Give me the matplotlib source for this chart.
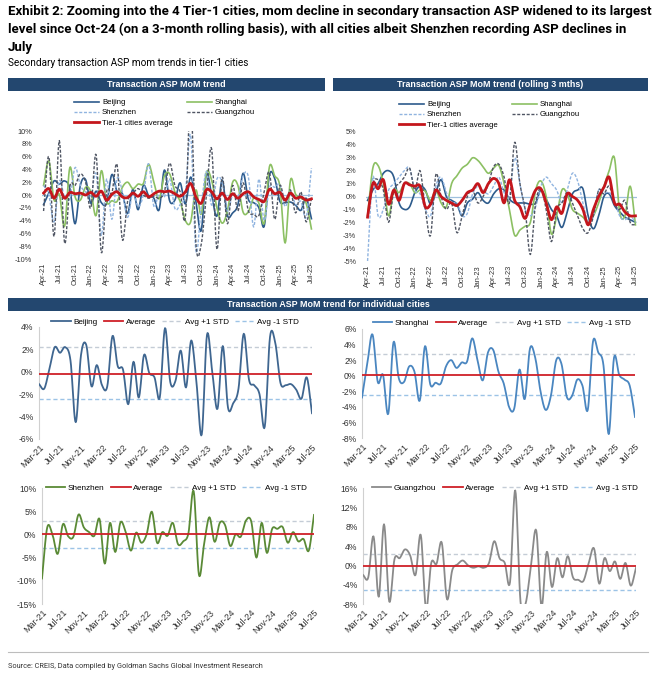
import numpy as np
import pandas as pd
import matplotlib
matplotlib.use('Agg')
import matplotlib.pyplot as plt
from matplotlib.patches import Rectangle
from matplotlib.lines import Line2D
from matplotlib.ticker import MultipleLocator, FuncFormatter

# monthly mom change in secondary ASP, Mar-21 .. Jul-25 (%)
months = pd.date_range('2021-03-01', periods=53, freq='MS')
month_labels = list(months.strftime('%b-%y'))

beijing = [-1.1, -1.5, 0.3, 2.2, 1.7, 2.2, 1.0, -4.5, 1.5, 2.4, -1.3, 0.6, -1.2, -1.3, 3.2, 0.5, 0.2, -2.9,
           0.9, -2.3, 1.5, -0.1, -0.5, -2.3, 3.9, -0.9, -0.8, 1.9, -1.4, 2.8, -1.0, -5.6, 3.3, 0.0, -3.3, 2.3,
           -3.2, -2.8, -1.5, 3.4, -0.7, -1.2, -2.0, -4.9, 3.1, 2.6, -1.0, -1.2, -1.1, -1.6, -2.4, -0.5, -3.7]
shanghai = [-2.8, 1.5, 5.3, -0.8, 0.1, -4.9, 4.3, -0.3, -0.8, 1.2, 0.5, -3.2, 3.8, -1.1, -0.9, -1.0, 1.2, 2.0,
            1.0, 1.7, 1.8, 4.8, 2.0, -0.6, 3.0, 3.3, 0.5, -1.0, -4.0, -4.2, 0.8, -3.0, 3.5, 2.3, -2.0, -4.4,
            -2.5, 2.0, 1.5, -2.7, -2.6, -0.5, -1.3, -4.4, 4.4, 3.0, 1.3, -7.5, 2.3, 0.1, -0.5, -1.3, -5.3]
shenzhen = [-9.5, 1.5, 0.0, -4.2, 2.2, -0.4, -0.5, 4.3, 1.5, 0.5, -0.3, 3.3, -6.3, 2.5, -3.8, 2.6, 0.5, -3.5,
            0.4, -1.8, 0.0, 4.9, -1.8, 0.5, -0.3, 2.5, -2.1, -1.5, 0.3, 9.3, -8.7, -2.0, 3.7, -1.6, 2.5, 2.0,
            -2.5, 0.0, -0.5, 3.0, 2.8, -5.0, 2.5, -4.0, 1.2, 1.2, 1.6, -1.8, 0.5, -1.5, -1.0, -3.5, 4.2]
guangzhou = [-2.0, -2.5, 6.0, -6.5, 8.5, -7.5, 1.3, 1.5, 3.3, 2.0, -2.0, 6.3, -9.0, 0.5, 0.3, 4.7, -7.0, -1.0,
             0.2, 1.0, 0.0, -0.5, -0.2, -0.5, 0.5, 5.0, 1.5, 0.5, -3.5, 15.5, -7.5, -7.8, 0.0, 7.2, -8.5, 2.8,
             -4.5, 1.5, -2.5, 1.9, -2.5, -3.0, -3.2, 0.5, 3.5, -3.8, 1.5, -1.2, 0.8, -2.8, 0.5, -4.2, -0.5]

# tier-1 average, Apr-21 .. Jul-25
tier1_avg = [0.3, 1.0, -0.5, 0.9, -0.5, 0.4, 0.2, 0.3, 0.0, 0.4, -0.2, 0.6, -0.8, 0.1, 0.5, -0.3, -0.4, 0.3,
             -0.2, 0.5, -0.3, 0.2, 0.6, 0.5, 0.6, 0.2, -0.2, 0.5, 1.8, -0.3, -1.3, 0.8, 0.5, -0.6, 0.3, -0.7,
             0.2, -0.5, 0.2, 0.5, -0.3, -0.7, -1.0, 0.9, 0.2, 0.4, -0.8, 0.3, -0.5, -0.3, -0.8, -0.6]

# rolling 3 months, Apr-21 .. Jul-25
bj_roll = [-0.3, 0.5, 1.0, 1.8, 2.0, 1.5, -0.5, -1.0, -0.8, 0.3, 0.8, 0.5, -0.6, 0.3, 1.3, 0.0, -0.3, -0.6,
           -1.5, -0.5, -0.2, 0.3, -0.3, -0.5, 0.2, 0.6, 0.5, -0.2, -0.5, -0.5, -0.5, -0.6, -0.5, 0.5, -0.2,
           -1.0, -1.5, -2.4, -1.2, 0.2, 0.5, 0.6, -1.5, -2.5, -1.5, 0.0, 0.2, -0.7, -1.2, -1.6, -1.8, -2.0]
sh_roll = [-1.5, 2.2, 2.4, 1.0, -1.5, 0.5, 0.3, 1.0, 1.0, 0.3, 0.5, 0.4, -0.3, 0.5, -0.5, -0.8, 1.0, 1.6,
           2.2, 2.5, 3.0, 2.8, 2.3, 1.8, 2.2, 2.4, 1.0, -1.0, -3.0, -2.6, -2.3, -2.0, 0.5, 1.2, 0.0, -2.9,
           -1.5, 0.5, 0.2, -1.0, -1.3, -1.6, -2.0, -1.5, -0.5, 0.8, 2.0, 3.0, -1.2, -1.5, 0.8, -2.2]
sz_roll = [-5.0, 1.5, -1.5, -1.0, 0.5, 1.0, 1.5, 2.0, 2.2, 0.5, 0.2, -1.0, -1.5, 0.8, 1.5, 0.3, -0.5, -0.5,
           -1.5, -1.3, 0.2, 0.8, 0.5, 0.2, 0.8, 1.5, 0.3, 0.0, 3.0, 1.0, -1.0, -1.5, -0.8, 0.8, 1.5, 1.0,
           0.5, -0.5, 0.5, 1.8, 1.2, -0.5, -2.0, -1.5, 0.5, 0.3, 0.3, -0.3, -1.5, -1.8, -1.5, -2.0]
gz_roll = [-1.5, 1.0, 1.3, 0.5, -2.0, 0.5, 1.0, 1.5, 2.2, 0.5, 2.0, -1.0, -3.0, 1.7, 0.0, -1.0, -0.5, -2.8,
           -1.5, 0.0, 0.5, -0.5, 0.0, 1.0, 2.3, 2.5, 1.5, -0.5, 4.2, 1.0, -1.0, -4.5, -0.5, 0.6, -1.0, -3.5,
           -1.0, -0.5, 0.3, -0.5, -1.5, -2.5, -2.8, -1.5, 0.5, 0.2, 0.8, -0.5, -1.0, -0.3, -2.0, -2.2]
avg_roll = [-1.6, 1.0, 0.6, 1.3, -0.6, 0.5, -0.3, 1.0, 0.9, 0.8, 0.8, -0.8, -0.6, 0.5, 0.0, -0.3, -0.5, -0.7,
            -0.3, 0.3, 0.5, 1.0, 0.3, 1.0, 1.4, 1.0, -0.5, 1.3, -0.3, -0.8, -1.7, -0.5, 0.5, 0.6, -0.5, -1.8,
            -0.8, -1.3, 0.2, 0.0, -0.3, -1.0, -2.2, -1.0, 0.0, 0.7, 1.5, -0.5, -0.6, -1.2, -1.5, -1.5]

# average and +/-1 std bands for the single-city panels (%)
bands = {
    'Beijing': (-0.2, 2.2, -2.45),
    'Shanghai': (0.1, 2.8, -2.45),
    'Shenzhen': (0.15, 2.9, -3.0),
    'Guangzhou': (-0.1, 2.4, -5.0),
}

W, H = 660, 678
NAVY = '#23476f'
RED = '#cf2027'
TFONT = ['Roboto', 'DejaVu Sans']
plt.rcParams['font.family'] = ['Liberation Sans', 'DejaVu Sans']


def box(x0, y0, x1, y1):
    return [x0 / W, 1 - y1 / H, (x1 - x0) / W, (y1 - y0) / H]


def smooth(y, n=10):
    # Excel-like smoothed line (Catmull-Rom through the data points)
    y = np.asarray(y, float)
    x = np.arange(len(y), dtype=float)
    xp = np.r_[2 * x[0] - x[1], x, 2 * x[-1] - x[-2]]
    yp = np.r_[2 * y[0] - y[1], y, 2 * y[-1] - y[-2]]
    t = np.linspace(0, 1, n, endpoint=False)
    sx, sy = [], []
    for i in range(1, len(xp) - 2):
        for arr, out in ((xp, sx), (yp, sy)):
            p0, p1, p2, p3 = arr[i - 1:i + 3]
            out.append(0.5 * (2 * p1 + (p2 - p0) * t + (2 * p0 - 5 * p1 + 4 * p2 - p3) * t ** 2
                              + (3 * p1 - p0 - 3 * p2 + p3) * t ** 3))
    sx.append([x[-1]])
    sy.append([y[-1]])
    return np.concatenate(sx), np.concatenate(sy)


pct = FuncFormatter(lambda v, p: '%d%%' % round(v))

fig = plt.figure(figsize=(W / 100, H / 100), dpi=100)

# titles
fig.text(8 / W, 1 - 5 / H,
         'Exhibit 2: Zooming into the 4 Tier-1 cities, mom decline in secondary transaction ASP widened to its largest\n'
         'level since Oct-24 (on a 3-month rolling basis), with all cities albeit Shenzhen recording ASP declines in\n'
         'July', family=TFONT, fontsize=9.5, fontweight='bold', va='top', ha='left', linespacing=1.5)
fig.text(8 / W, 1 - 63 / H, 'Secondary transaction ASP mom trends in tier-1 cities', family=TFONT,
         fontsize=7.2, va='center', ha='left')


def header(x0, y0, x1, y1, text):
    fig.patches.append(Rectangle((x0 / W, 1 - y1 / H), (x1 - x0) / W, (y1 - y0) / H,
                                 transform=fig.transFigure, facecolor=NAVY, edgecolor='none'))
    fig.text((x0 + x1) / 2 / W, 1 - (y0 + y1) / 2 / H, text, color='white', fontweight='bold',
             fontsize=6.4, ha='center', va='center')


header(8, 78, 325, 91, 'Transaction ASP MoM trend')
header(333, 78, 648, 91, 'Transaction ASP MoM trend (rolling 3 mths)')
header(8, 298, 648, 311, 'Transaction ASP MoM trend for individual cities')

# top panels
top_labels = month_labels[1:]
top_specs = [
    (box(42, 131, 313, 259), (-10, 10), 2,
     [beijing[1:], shanghai[1:], shenzhen[1:], guangzhou[1:], tier1_avg], (70, 95)),
    (box(366, 132, 637, 261), (-5, 5), 1,
     [bj_roll, sh_roll, sz_roll, gz_roll, avg_roll], (395, 97)),
]
styles = [
    ('Beijing', '#2d5b8c', '-', 1.2),
    ('Shanghai', '#8cc063', '-', 1.2),
    ('Shenzhen', '#90b4e0', '--', 1.0),
    ('Guangzhou', '#4f5563', '--', 1.0),
    ('Tier-1 cities average', '#c4161c', '-', 2.0),
]
for rect, ylim, step, series, (lx, ly) in top_specs:
    ax = fig.add_axes(rect)
    ax.axhline(0, color='#9fc0de', lw=0.9, zorder=1)
    handles = {}
    for (name, col, ls, lw), vals in zip(styles, series):
        sx, sy = smooth(vals)
        handles[name], = ax.plot(sx, sy, color=col, ls=ls, lw=lw, label=name, zorder=3 if 'Tier' in name else 2,
                                 dashes=(2.2, 1.2) if ls == '--' else (None, None))
    ax.set_ylim(*ylim)
    ax.set_xlim(-0.3, len(top_labels) - 0.7)
    ax.yaxis.set_major_locator(MultipleLocator(step))
    ax.yaxis.set_major_formatter(pct)
    ax.set_xticks(range(0, len(top_labels), 3))
    ax.set_xticklabels(top_labels[::3], rotation=90, fontsize=5.3, color='#333333')
    ax.tick_params(axis='y', labelsize=5.3, colors='#333333', length=0, pad=7)
    ax.tick_params(axis='x', length=0, pad=3)
    for s in ax.spines.values():
        s.set_visible(False)
    order = ['Beijing', 'Shenzhen', 'Tier-1 cities average', 'Shanghai', 'Guangzhou']
    ax.legend([handles[o] for o in order], order, loc='upper left', bbox_to_anchor=(lx / W, 1 - ly / H),
              bbox_transform=fig.transFigure, ncol=2, frameon=False, fontsize=5.6, handlelength=3.2,
              handletextpad=0.4, columnspacing=1.8, labelspacing=0.35, borderpad=0)

# single-city panels
city_specs = [
    ('Beijing', beijing, '#3f6690', box(39, 327, 312, 439), (-6, 4), 2, (175, 322)),
    ('Shanghai', shanghai, '#4a86c0', box(362, 329, 635, 438), (-8, 6), 2, (502, 323)),
    ('Shenzhen', shenzhen, '#5a8a36', box(42, 488, 314, 604), (-15, 10), 5, (176, 488)),
    ('Guangzhou', guangzhou, '#8a8a8a', box(363, 488, 636, 604), (-8, 16), 4, (505, 488)),
]
for name, vals, col, rect, ylim, step, (lx, ly) in city_specs:
    ax = fig.add_axes(rect)
    avg, up, dn = bands[name]
    sx, sy = smooth(vals)
    l1, = ax.plot(sx, sy, color=col, lw=1.3, zorder=3)
    l2 = ax.axhline(avg, color=RED, lw=1.3, zorder=4)
    l3 = ax.axhline(up, color='#c4ccd6', lw=1.0, ls=(0, (3, 2)), zorder=2)
    l4 = ax.axhline(dn, color='#9cc3e6', lw=1.0, ls=(0, (3, 2)), zorder=2)
    ax.set_ylim(*ylim)
    ax.set_xlim(0, len(vals) - 1)
    ax.yaxis.set_major_locator(MultipleLocator(step))
    ax.yaxis.set_major_formatter(pct)
    ax.set_xticks(range(0, len(vals), 4))
    ax.set_xticklabels(month_labels[::4], rotation=45, ha='right', rotation_mode='anchor',
                       fontsize=6.4, color='#333333')
    ax.tick_params(axis='y', labelsize=6.2, colors='#333333', length=0, pad=4)
    ax.tick_params(axis='x', length=0, pad=3)
    for s in ['top', 'right', 'bottom']:
        ax.spines[s].set_visible(False)
    ax.spines['left'].set_color('#d0d0d0')
    ax.spines['left'].set_linewidth(0.8)
    ax.legend([l1, l2, l3, l4], [name, 'Average', 'Avg +1 STD', 'Avg -1 STD'], loc='center',
              bbox_to_anchor=(lx / W, 1 - ly / H), bbox_transform=fig.transFigure, ncol=4, frameon=False,
              fontsize=5.9, handlelength=2.4, handletextpad=0.3, columnspacing=0.8, borderpad=0)

# footer
fig.add_artist(Line2D([8 / W, 648 / W], [1 - 652 / H, 1 - 652 / H], color='#bdbdbd', lw=0.8))
fig.text(8 / W, 1 - 667 / H, 'Source: CREIS, Data compiled by Goldman Sachs Global Investment Research',
         family=TFONT, fontsize=5.3, va='center', ha='left', color='#333333')

fig.savefig('out.png', dpi=100)
